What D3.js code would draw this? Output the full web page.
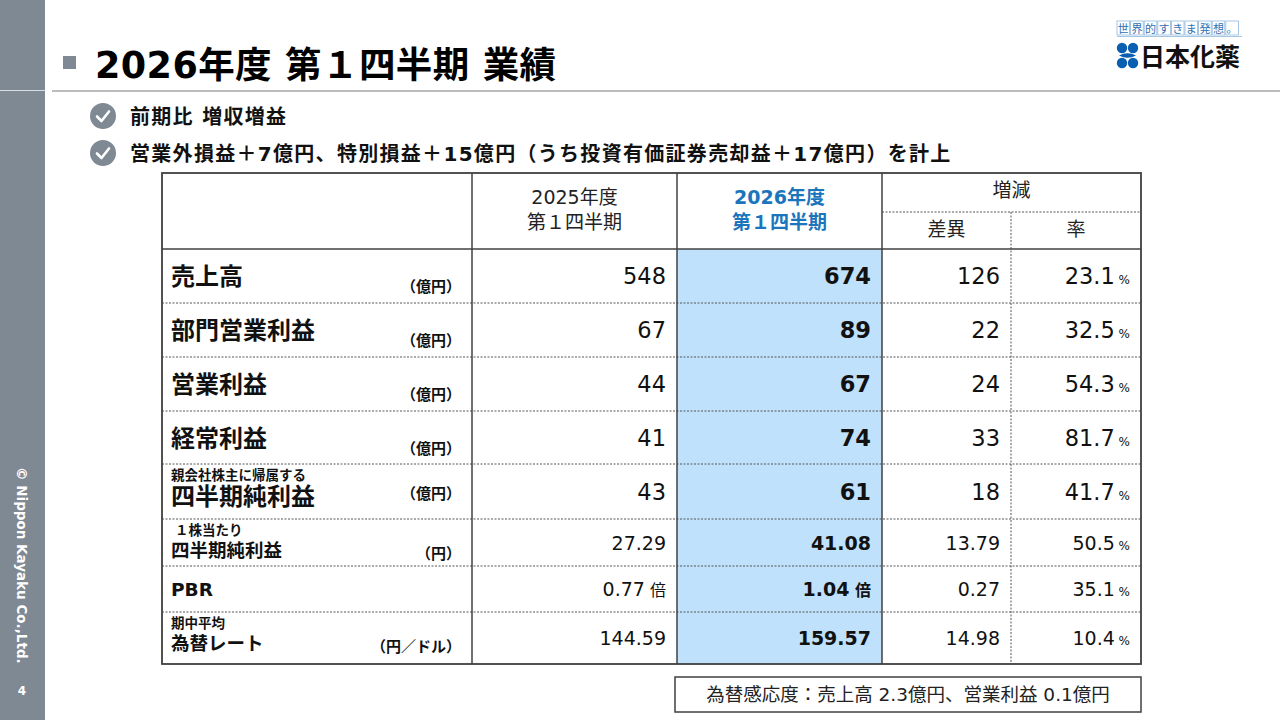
<!DOCTYPE html>
<html>
<head>
<meta charset="utf-8">
<script src="https://cdn.jsdelivr.net/npm/d3@7"></script>
<style>
  body { margin: 0; background: #fff; }
  svg { display: block; font-family: "DejaVu Sans", "Noto Sans CJK JP", sans-serif; }
</style>
</head>
<body>
<script>
// table data
var metrics = ["売上高", "部門営業利益", "営業利益", "経常利益", "四半期純利益", "四半期純利益", "PBR", "為替レート"];
var metricNotes = ["", "", "", "", "親会社株主に帰属する", "１株当たり", "", "期中平均"];
var units = ["（億円）", "（億円）", "（億円）", "（億円）", "（億円）", "（円）", "", "（円／ドル）"];
var fy2025 = [548, 67, 44, 41, 43, 27.29, 0.77, 144.59];
var fy2026 = [674, 89, 67, 74, 61, 41.08, 1.04, 159.57];
var diffs = [126, 22, 24, 33, 18, 13.79, 0.27, 14.98];
var rates = [23.1, 32.5, 54.3, 81.7, 41.7, 50.5, 35.1, 10.4];
var decimals = [0, 0, 0, 0, 0, 2, 2, 2];
var valueSuffix = ["", "", "", "", "", "", "倍", ""];

var bullets = ["前期比 増収増益", "営業外損益＋7億円、特別損益＋15億円（うち投資有価証券売却益＋17億円）を計上"];
var prevHeader = ["2025年度", "第１四半期"];
var currHeader = ["2026年度", "第１四半期"];
var changeHeader = "増減", diffHeader = "差異", rateHeader = "率";
var footnote = "為替感応度：売上高 2.3億円、営業利益 0.1億円";

var W = 1280, H = 720,
    grey = "#7f8993",
    lineColor = "#404040",
    blue = "#1a75bc",
    highlight = "#bfe1fb";

var svg = d3.select("body").append("svg")
    .attr("width", W)
    .attr("height", H);

// sidebar
svg.append("rect").attr("x", 0).attr("y", 0).attr("width", 45).attr("height", H).attr("fill", grey);
svg.append("line").attr("x1", 0).attr("x2", 45).attr("y1", 90.5).attr("y2", 90.5)
    .attr("stroke", "#d9dde1").attr("stroke-width", 1);
svg.append("text")
    .attr("transform", "translate(17,467) rotate(90)")
    .attr("fill", "#fff").attr("font-size", 13.5).attr("font-weight", "bold")
    .text("© Nippon Kayaku Co.,Ltd.");
svg.append("text")
    .attr("x", 22).attr("y", 695).attr("text-anchor", "middle")
    .attr("fill", "#fff").attr("font-size", 12).attr("font-weight", "bold")
    .text("4");

// title
svg.append("rect").attr("x", 63).attr("y", 56).attr("width", 13).attr("height", 13).attr("fill", grey);
svg.append("text")
    .attr("x", 95).attr("y", 78)
    .attr("font-size", 36.5).attr("font-weight", "bold").attr("fill", "#000")
    .attr("letter-spacing", 0.4)
    .text("2026年度 第１四半期 業績");
svg.append("line").attr("x1", 52).attr("x2", W).attr("y1", 91).attr("y2", 91)
    .attr("stroke", "#a6a6a6").attr("stroke-width", 1.5);

// logo
var logo = svg.append("g").attr("class", "logo");
var slogan = "世界的すきま発想。".split("");
logo.selectAll("rect.box")
    .data(slogan)
    .enter()
    .append("rect")
    .attr("class", "box")
    .attr("x", function(d, i) { return 1117 + i * 13.6; })
    .attr("y", 21).attr("width", 12.6).attr("height", 14)
    .attr("fill", "#fff").attr("stroke", "#8fb8dd").attr("stroke-width", 0.8);
logo.selectAll("text.slogan")
    .data(slogan)
    .enter()
    .append("text")
    .attr("class", "slogan")
    .attr("x", function(d, i) { return 1117 + i * 13.6 + 6.3; })
    .attr("y", 33).attr("text-anchor", "middle")
    .attr("font-size", 11).attr("fill", "#2d6fb3")
    .text(function(d) { return d; });
logo.append("line").attr("x1", 1117).attr("x2", 1242).attr("y1", 36.5).attr("y2", 36.5)
    .attr("stroke", "#8fb8dd").attr("stroke-width", 0.8);
[[1122, 48], [1133, 48], [1122, 63], [1133, 63]].forEach(function(p) {
    logo.append("circle").attr("cx", p[0]).attr("cy", p[1]).attr("r", 5.2).attr("fill", "#0a5fb0");
});
logo.append("path")
    .attr("d", "M1119,55.5 Q1127.5,51 1136,55.5 Q1127.5,60 1119,55.5 Z")
    .attr("fill", "#0a5fb0");
logo.append("text")
    .attr("x", 1140).attr("y", 66)
    .attr("font-size", 25).attr("font-weight", "bold").attr("fill", "#111")
    .text("日本化薬");

// bullets
var bulletY = [116, 153];
var bulletG = svg.append("g").selectAll("g")
    .data(bullets)
    .enter()
    .append("g")
    .attr("transform", function(d, i) { return "translate(0," + bulletY[i] + ")"; });
bulletG.append("circle").attr("cx", 103).attr("cy", 0).attr("r", 13).attr("fill", grey);
bulletG.append("path")
    .attr("d", "M97,0.5 L101.5,5 L109,-4.5")
    .attr("fill", "none").attr("stroke", "#fff").attr("stroke-width", 2.6)
    .attr("stroke-linecap", "round").attr("stroke-linejoin", "round");
bulletG.append("text")
    .attr("x", 130).attr("y", 8)
    .attr("font-size", 20).attr("font-weight", "bold").attr("letter-spacing", 1.3)
    .attr("fill", "#111")
    .text(function(d) { return d; });

// table geometry
var columns = ["label", "prev", "curr", "diff", "rate"];
var colEdges = [162, 472, 677, 882, 1011, 1141];
var x = d3.scaleOrdinal().domain(columns).range(colEdges.slice(0, 5));
var colW = function(c) { var i = columns.indexOf(c); return colEdges[i + 1] - colEdges[i]; };

var headTop = 173, headBottom = 249;
var rowHeights = [54, 54, 54, 53, 55, 47, 46, 52];
var rowEdges = [headBottom].concat(Array.from(d3.cumsum(rowHeights), function(v) { return v + headBottom; }));
var y = d3.scaleOrdinal().domain(d3.range(metrics.length)).range(rowEdges.slice(0, metrics.length));
var tableBottom = rowEdges[rowEdges.length - 1];
var bigRow = function(i) { return i < 5; };

var table = svg.append("g").attr("class", "table");

// highlight column
table.append("rect")
    .attr("x", x("curr")).attr("y", headBottom)
    .attr("width", colW("curr")).attr("height", tableBottom - headBottom)
    .attr("fill", highlight);

// dashed row separators
table.selectAll("line.row")
    .data(d3.range(1, metrics.length))
    .enter()
    .append("line")
    .attr("class", "row")
    .attr("x1", colEdges[0]).attr("x2", colEdges[5])
    .attr("y1", function(i) { return y(i); })
    .attr("y2", function(i) { return y(i); })
    .attr("stroke", "#555").attr("stroke-width", 1).attr("stroke-dasharray", "2,1.5");

// dashed sub-header line and rate divider
table.append("line")
    .attr("x1", x("diff")).attr("x2", colEdges[5]).attr("y1", 212).attr("y2", 212)
    .attr("stroke", "#555").attr("stroke-width", 1).attr("stroke-dasharray", "2,1.5");
table.append("line")
    .attr("x1", x("rate")).attr("x2", x("rate")).attr("y1", 212).attr("y2", tableBottom)
    .attr("stroke", "#555").attr("stroke-width", 1).attr("stroke-dasharray", "2,1.5");

// solid lines
table.selectAll("line.col")
    .data(["prev", "curr", "diff"])
    .enter()
    .append("line")
    .attr("class", "col")
    .attr("x1", function(c) { return x(c); }).attr("x2", function(c) { return x(c); })
    .attr("y1", headTop).attr("y2", tableBottom)
    .attr("stroke", lineColor).attr("stroke-width", 1.5);
table.append("line")
    .attr("x1", colEdges[0]).attr("x2", colEdges[5]).attr("y1", headBottom).attr("y2", headBottom)
    .attr("stroke", lineColor).attr("stroke-width", 1.5);
table.append("rect")
    .attr("x", colEdges[0]).attr("y", headTop)
    .attr("width", colEdges[5] - colEdges[0]).attr("height", tableBottom - headTop)
    .attr("fill", "none").attr("stroke", lineColor).attr("stroke-width", 1.8);

// header text
var centre = function(c) { return x(c) + colW(c) / 2; };
table.selectAll("text.prevHead")
    .data(prevHeader)
    .enter()
    .append("text")
    .attr("x", centre("prev")).attr("y", function(d, i) { return 204 + i * 25; })
    .attr("text-anchor", "middle").attr("font-size", 19).attr("fill", "#222")
    .text(function(d) { return d; });
table.selectAll("text.currHead")
    .data(currHeader)
    .enter()
    .append("text")
    .attr("x", centre("curr")).attr("y", function(d, i) { return 204 + i * 25; })
    .attr("text-anchor", "middle").attr("font-size", 19).attr("font-weight", "bold").attr("fill", blue)
    .text(function(d) { return d; });
table.append("text")
    .attr("x", (x("diff") + colEdges[5]) / 2).attr("y", 197)
    .attr("text-anchor", "middle").attr("font-size", 19).attr("fill", "#222")
    .text(changeHeader);
table.append("text")
    .attr("x", centre("diff")).attr("y", 236)
    .attr("text-anchor", "middle").attr("font-size", 19).attr("fill", "#222")
    .text(diffHeader);
table.append("text")
    .attr("x", centre("rate")).attr("y", 236)
    .attr("text-anchor", "middle").attr("font-size", 19).attr("fill", "#222")
    .text(rateHeader);

// rows
var rows = table.selectAll("g.rowg")
    .data(metrics)
    .enter()
    .append("g")
    .attr("class", "rowg")
    .attr("transform", function(d, i) { return "translate(0," + y(i) + ")"; });

rows.append("text")
    .attr("x", 171)
    .attr("y", function(d, i) {
        if (metricNotes[i]) return bigRow(i) ? 41 : 38;
        return bigRow(i) ? 36 : rowHeights[i] / 2 + 7;
    })
    .attr("font-size", function(d, i) { return bigRow(i) ? 24 : 18.5; })
    .attr("font-weight", "bold").attr("fill", "#111")
    .text(function(d) { return d; });

rows.append("text")
    .attr("x", function(d, i) { return i === 5 ? 175 : 171; })
    .attr("y", 16)
    .attr("font-size", 13.5).attr("font-weight", "bold").attr("fill", "#111")
    .text(function(d, i) { return metricNotes[i]; });

rows.append("text")
    .attr("x", 461)
    .attr("y", function(d, i) { return i === 4 ? 35 : (bigRow(i) ? 43 : 40); })
    .attr("text-anchor", "end")
    .attr("font-size", 15).attr("font-weight", "bold").attr("fill", "#111")
    .text(function(d, i) { return units[i]; });

function fmt(v, i) { return d3.format("." + decimals[i] + "f")(v); }
function valueY(i) { return rowHeights[i] / 2 + (bigRow(i) ? 8 : 7); }

function addValue(col, arr, bold, withSuffix) {
    var t = rows.append("text")
        .attr("x", x(col) + colW(col) - 11)
        .attr("y", function(d, i) { return valueY(i); })
        .attr("text-anchor", "end")
        .attr("font-weight", bold ? "bold" : "normal")
        .attr("fill", "#111")
        .attr("font-size", function(d, i) { return bigRow(i) ? 22.5 : 19; });
    t.append("tspan").text(function(d, i) { return fmt(arr[i], i); });
    if (withSuffix) {
        t.append("tspan")
            .attr("font-size", 16)
            .text(function(d, i) { return valueSuffix[i] ? " " + valueSuffix[i] : ""; });
    }
}
addValue("prev", fy2025, false, true);
addValue("curr", fy2026, true, true);
addValue("diff", diffs, false, false);

var rateText = rows.append("text")
    .attr("x", colEdges[5] - 11)
    .attr("y", function(d, i) { return valueY(i); })
    .attr("text-anchor", "end").attr("fill", "#111")
    .attr("font-size", function(d, i) { return bigRow(i) ? 22.5 : 19; });
rateText.append("tspan").text(function(d, i) { return d3.format(".1f")(rates[i]); });
rateText.append("tspan").attr("font-size", 12).text(" %");

// footnote
svg.append("rect")
    .attr("x", 675).attr("y", 677).attr("width", 466).attr("height", 35)
    .attr("fill", "#fff").attr("stroke", lineColor).attr("stroke-width", 1.5);
svg.append("text")
    .attr("x", 908).attr("y", 701).attr("text-anchor", "middle")
    .attr("font-size", 18.5).attr("fill", "#222")
    .text(footnote);
</script>
</body>
</html>
